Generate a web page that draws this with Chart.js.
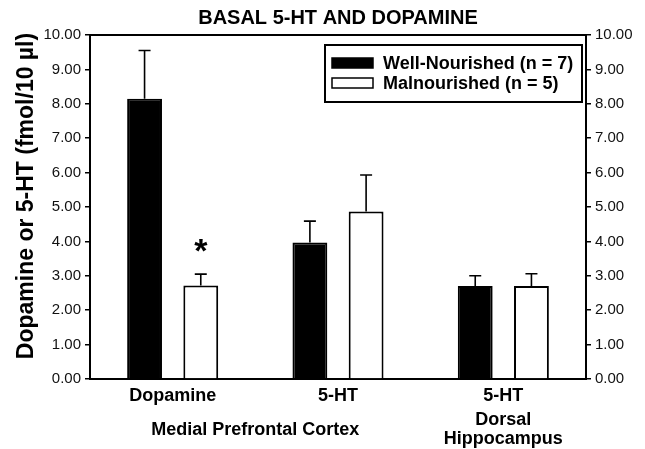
<!DOCTYPE html>
<html>
<head>
<meta charset="utf-8">
<script src="https://cdn.jsdelivr.net/npm/chart.js@4.4.0/dist/chart.umd.min.js"></script>
<style>
  html, body { margin: 0; padding: 0; background: #fff; }
  #wrap { width: 645px; height: 449px; }
</style>
</head>
<body>
<div id="wrap"><canvas id="chart" width="645" height="449"></canvas></div>
<script>
// data
const measures = ['Dopamine', '5-HT', '5-HT'];
const regions = ['Medial Prefrontal Cortex', 'Dorsal\nHippocampus'];
const regionSpans = [[0, 1], [2, 2]];
const wellNourished = [8.15, 3.97, 2.70];
const wellSem = [1.40, 0.62, 0.30];
const malnourished = [2.72, 4.87, 2.70];
const malSem = [0.33, 1.06, 0.36];
const significant = [false, false, false];
const malSignificant = [true, false, false];
const yTicks = [0, 1, 2, 3, 4, 5, 6, 7, 8, 9, 10];

const FONT = 'Arial, "Liberation Sans", Helvetica, sans-serif';

const errorBars = {
  id: 'errorBars',
  afterDatasetsDraw(chart) {
    const ctx = chart.ctx;
    const y = chart.scales.y;
    const sems = [wellSem, malSem];
    const stars = [significant, malSignificant];
    ctx.save();
    ctx.strokeStyle = '#000';
    ctx.lineWidth = 1.6;
    chart.data.datasets.forEach((ds, i) => {
      chart.getDatasetMeta(i).data.forEach((bar, j) => {
        const top = y.getPixelForValue(ds.data[j] + sems[i][j]);
        ctx.beginPath();
        ctx.moveTo(bar.x, bar.y);
        ctx.lineTo(bar.x, top);
        ctx.moveTo(bar.x - 6, top);
        ctx.lineTo(bar.x + 6, top);
        ctx.stroke();
        if (stars[i][j]) {
          ctx.fillStyle = '#000';
          ctx.font = 'bold 34px ' + FONT;
          ctx.textAlign = 'center';
          ctx.textBaseline = 'alphabetic';
          ctx.fillText('*', bar.x, top - 12);
        }
      });
    });
    ctx.restore();
  }
};

const decorations = {
  id: 'decorations',
  afterDraw(chart) {
    const ctx = chart.ctx;
    const area = chart.chartArea;
    const x = chart.scales.x;
    ctx.save();
    // top frame line
    ctx.strokeStyle = '#000';
    ctx.lineWidth = 2;
    ctx.beginPath();
    ctx.moveTo(area.left, area.top);
    ctx.lineTo(area.right, area.top);
    ctx.stroke();

    // y axis title
    ctx.fillStyle = '#000';
    ctx.font = 'bold 23px ' + FONT;
    ctx.textAlign = 'center';
    ctx.textBaseline = 'middle';
    ctx.translate(27, 196);
    ctx.rotate(-Math.PI / 2);
    ctx.fillText('Dopamine or 5-HT (fmol/10 \u00b5l)', 0, 0);
    ctx.setTransform(1, 0, 0, 1, 0, 0);

    // region labels under the measures
    ctx.font = 'bold 18px ' + FONT;
    regions.forEach((name, i) => {
      const span = regionSpans[i];
      const cx = (x.getPixelForValue(span[0]) + x.getPixelForValue(span[1])) / 2;
      const lines = name.split('\n');
      const y0 = lines.length === 1 ? 430 : 420;
      lines.forEach((line, k) => ctx.fillText(line, cx, y0 + k * 19));
    });

    // legend box
    ctx.lineWidth = 2;
    ctx.strokeRect(325, 45, 257, 57);
    ctx.font = 'bold 18px ' + FONT;
    ctx.textAlign = 'left';
    chart.data.datasets.forEach((ds, i) => {
      const cy = 63 + i * 20;
      ctx.fillStyle = ds.backgroundColor;
      ctx.fillRect(332, cy - 5, 41, 10);
      ctx.lineWidth = 1.5;
      ctx.strokeRect(332, cy - 5, 41, 10);
      ctx.fillStyle = '#000';
      ctx.fillText(ds.label, 383, cy + 1);
    });
    ctx.restore();
  }
};

const tickFmt = v => Number(v).toFixed(2);

new Chart(document.getElementById('chart'), {
  type: 'bar',
  data: {
    labels: measures,
    datasets: [
      {
        label: 'Well-Nourished (n = 7)',
        data: wellNourished,
        backgroundColor: '#000',
        borderColor: '#000',
        borderWidth: 2
      },
      {
        label: 'Malnourished (n = 5)',
        data: malnourished,
        backgroundColor: '#fff',
        borderColor: '#000',
        borderWidth: 2
      }
    ]
  },
  options: {
    responsive: false,
    animation: false,
    devicePixelRatio: 1,
    categoryPercentage: 0.68,
    barPercentage: 0.62,
    layout: { padding: { top: 0, left: 0, right: 0, bottom: 0 } },
    plugins: {
      legend: { display: false },
      tooltip: { enabled: false },
      title: {
        display: true,
        fullSize: false,
        text: 'BASAL 5-HT AND DOPAMINE',
        color: '#000',
        font: { family: FONT, size: 20, weight: 'bold', lineHeight: 1.2 },
        padding: { top: 6, bottom: 5 }
      }
    },
    scales: {
      x: {
        grid: { display: false, drawTicks: false, tickLength: 0 },
        border: { color: '#000', width: 2 },
        ticks: {
          color: '#000',
          padding: 6,
          font: { family: FONT, size: 18, weight: 'bold' }
        },
        afterFit(scale) { scale.height = 70; }
      },
      y: {
        position: 'left',
        min: 0,
        max: 10,
        afterBuildTicks(scale) { scale.ticks = yTicks.map(v => ({ value: v })); },
        grid: { drawOnChartArea: false, tickLength: 5, color: '#000', lineWidth: 1.5 },
        border: { color: '#000', width: 2 },
        ticks: {
          color: '#111',
          padding: 4,
          callback: tickFmt,
          font: { family: FONT, size: 15 }
        },
        afterFit(scale) { scale.width = 90; }
      },
      y2: {
        position: 'right',
        min: 0,
        max: 10,
        afterBuildTicks(scale) { scale.ticks = yTicks.map(v => ({ value: v })); },
        grid: { drawOnChartArea: false, tickLength: 5, color: '#000', lineWidth: 1.5 },
        border: { color: '#000', width: 2 },
        ticks: {
          color: '#111',
          padding: 4,
          callback: tickFmt,
          font: { family: FONT, size: 15 }
        },
        afterFit(scale) { scale.width = 59; }
      }
    }
  },
  plugins: [errorBars, decorations]
});
</script>
</body>
</html>
